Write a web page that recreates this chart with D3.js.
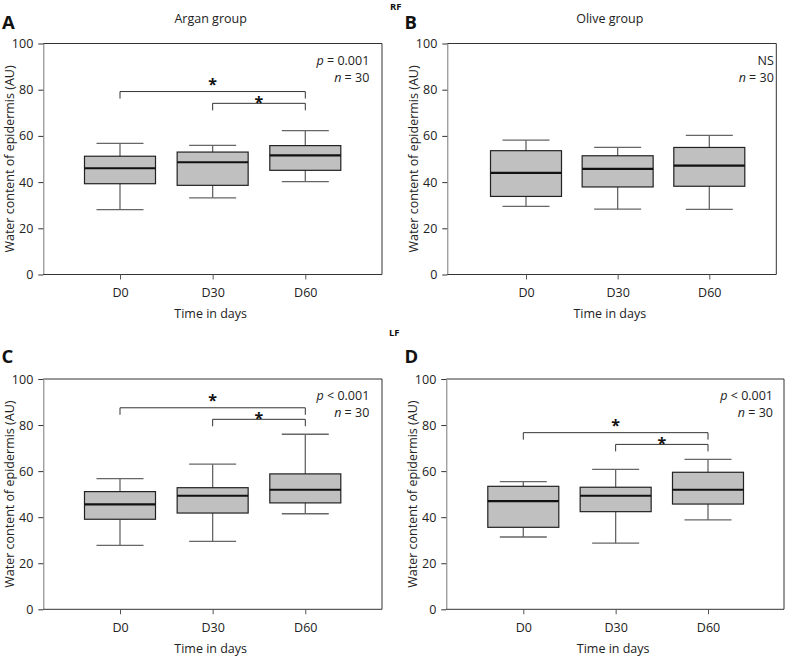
<!DOCTYPE html>
<html>
<head>
<meta charset="utf-8">
<script src="https://cdn.jsdelivr.net/npm/d3@7"></script>
<style>
  body { margin: 0; background: #fff; }
  svg { display: block; font-family: "Open Sans", sans-serif; }
  .axis text { font-size: 12.5px; fill: #222; font-family: "Open Sans", sans-serif; }
</style>
</head>
<body>
<script>
// categories and tick values
const days = ["D0", "D30", "D60"];
const yTicks = [0, 20, 40, 60, 80, 100];

// box summaries per day: [whisker low, Q1, median, Q3, whisker high]
const arganRF = [[28.1, 39.3, 46.0, 51.2, 56.8], [33.2, 38.6, 48.6, 53.0, 55.9], [40.2, 45.1, 51.6, 55.8, 62.3]];
const oliveRF = [[29.5, 33.8, 44.0, 53.6, 58.2], [28.3, 37.9, 45.7, 51.4, 55.0], [28.2, 38.2, 47.1, 55.0, 60.2]];
const arganLF = [[27.8, 39.1, 45.6, 51.1, 56.7], [29.5, 41.8, 49.3, 52.8, 63.0], [41.5, 46.2, 51.9, 58.8, 76.0]];
const oliveLF = [[31.4, 35.6, 47.0, 53.4, 55.4], [28.7, 42.4, 49.3, 53.0, 60.8], [38.8, 45.7, 51.9, 59.5, 65.1]];

// significance brackets: [from, to, height]
const arganRFSig = [["D0", "D60", 79.2], ["D30", "D60", 74.1]];
const oliveRFSig = [];
const arganLFSig = [["D0", "D60", 87.5], ["D30", "D60", 82.5]];
const oliveLFSig = [["D0", "D60", 76.7], ["D30", "D60", 71.6]];

// test result text
const arganRFTest = ["p", " = 0.001"];
const oliveRFTest = ["", "NS"];
const arganLFTest = ["p", " < 0.001"];
const oliveLFTest = ["p", " < 0.001"];
const sampleSize = 30;

const W = 788, H = 658;
const svg = d3.select("body").append("svg")
  .attr("width", W)
  .attr("height", H);

// panel layout
const panels = [
  { letter: "A", title: "Argan group", data: arganRF, sig: arganRFSig, test: arganRFTest,
    left: 43.3, right: 382, top: 43.5, bottom: 274.5, x0: 120, x1: 305.3, letterX: 2, letterY: 28.5 },
  { letter: "B", title: "Olive group", data: oliveRF, sig: oliveRFSig, test: oliveRFTest,
    left: 447.3, right: 776.3, top: 43.5, bottom: 274.5, x0: 526, x1: 709.3, letterX: 404.5, letterY: 28.5 },
  { letter: "C", title: null, data: arganLF, sig: arganLFSig, test: arganLFTest,
    left: 43.3, right: 382, top: 379, bottom: 609.3, x0: 120, x1: 305.3, letterX: 1.5, letterY: 362.5 },
  { letter: "D", title: null, data: oliveLF, sig: oliveLFSig, test: oliveLFTest,
    left: 446.3, right: 784, top: 379, bottom: 609.3, x0: 523.3, x1: 708, letterX: 404.5, letterY: 362.5 }
];

const boxW = 71, capW = 47;

panels.forEach(p => {
  const x = d3.scalePoint().domain(days).range([p.x0, p.x1]);
  const y = d3.scaleLinear().domain([0, 100]).range([p.bottom, p.top]);
  const g = svg.append("g");

  // frame top and right
  g.append("line").attr("x1", p.left).attr("x2", p.right).attr("y1", p.top).attr("y2", p.top)
    .attr("stroke", "#333").attr("stroke-width", 1);
  g.append("line").attr("x1", p.right).attr("x2", p.right).attr("y1", p.top).attr("y2", p.bottom)
    .attr("stroke", "#333").attr("stroke-width", 1);

  // axes
  const yAxis = g.append("g")
    .attr("class", "axis")
    .attr("transform", `translate(${p.left},0)`)
    .call(d3.axisLeft(y).tickValues(yTicks).tickSize(5).tickSizeOuter(0).tickPadding(5));
  yAxis.select(".domain").attr("stroke", "#7a7a7a");
  yAxis.selectAll(".tick line").attr("stroke", "#333");

  const xAxis = g.append("g")
    .attr("class", "axis")
    .attr("transform", `translate(0,${p.bottom})`)
    .call(d3.axisBottom(x).tickSize(5).tickSizeOuter(0).tickPadding(9));
  xAxis.select(".domain").attr("stroke", "#333").attr("d", `M${p.left},0H${p.right}`);
  xAxis.selectAll(".tick line").attr("stroke", "#555");

  // axis labels
  g.append("text")
    .attr("transform", `translate(${p.left - 29},${(p.top + p.bottom) / 2}) rotate(-90)`)
    .attr("text-anchor", "middle")
    .style("font-size", "12.5px").style("fill", "#222")
    .text("Water content of epidermis (AU)");
  g.append("text")
    .attr("x", (p.left + p.right) / 2 - 2)
    .attr("y", p.bottom + 43.5)
    .attr("text-anchor", "middle")
    .style("font-size", "12.5px").style("fill", "#222")
    .text("Time in days");

  // boxes
  const boxes = g.selectAll(".box").data(p.data.map((d, i) => ({ day: days[i], v: d })))
    .join("g").attr("class", "box");
  boxes.append("line") // whisker lower
    .attr("x1", d => x(d.day)).attr("x2", d => x(d.day))
    .attr("y1", d => y(d.v[0])).attr("y2", d => y(d.v[1]))
    .attr("stroke", "#666").attr("stroke-width", 1.3);
  boxes.append("line") // whisker upper
    .attr("x1", d => x(d.day)).attr("x2", d => x(d.day))
    .attr("y1", d => y(d.v[4])).attr("y2", d => y(d.v[3]))
    .attr("stroke", "#666").attr("stroke-width", 1.3);
  boxes.append("line")
    .attr("x1", d => x(d.day) - capW / 2).attr("x2", d => x(d.day) + capW / 2)
    .attr("y1", d => y(d.v[0])).attr("y2", d => y(d.v[0]))
    .attr("stroke", "#666").attr("stroke-width", 1.3);
  boxes.append("line")
    .attr("x1", d => x(d.day) - capW / 2).attr("x2", d => x(d.day) + capW / 2)
    .attr("y1", d => y(d.v[4])).attr("y2", d => y(d.v[4]))
    .attr("stroke", "#666").attr("stroke-width", 1.3);
  boxes.append("rect")
    .attr("x", d => x(d.day) - boxW / 2)
    .attr("width", boxW)
    .attr("y", d => y(d.v[3]))
    .attr("height", d => y(d.v[1]) - y(d.v[3]))
    .attr("fill", "#c0c0c0")
    .attr("stroke", "#222").attr("stroke-width", 1.2);
  boxes.append("line")
    .attr("x1", d => x(d.day) - boxW / 2).attr("x2", d => x(d.day) + boxW / 2)
    .attr("y1", d => y(d.v[2])).attr("y2", d => y(d.v[2]))
    .attr("stroke", "#111").attr("stroke-width", 2.2);

  // significance brackets
  p.sig.forEach((s, i) => {
    const yy = y(s[2]);
    const xa = x(s[0]), xb = x(s[1]);
    g.append("path")
      .attr("d", `M${xa},${yy + 7}V${yy}H${xb}V${yy + 7}`)
      .attr("fill", "none").attr("stroke", "#333").attr("stroke-width", 1);
    g.append("text")
      .attr("x", (xa + xb) / 2)
      .attr("y", yy - (i === 0 ? 10.5 : 4.8) + 9)
      .attr("text-anchor", "middle")
      .style("font-size", "16px").style("font-weight", "bold").style("fill", "#111")
      .text("*");
  });

  // test result
  const tx = p.right - (p.letter === "B" ? 2.5 : p.letter === "D" ? 11 : 12.7);
  const t1 = g.append("text")
    .attr("x", tx)
    .attr("y", p.top + 21.3)
    .attr("text-anchor", "end")
    .style("font-size", "12.5px").style("fill", "#222");
  t1.append("tspan").style("font-style", "italic").text(p.test[0]);
  t1.append("tspan").text(p.test[1]);
  const t2 = g.append("text")
    .attr("x", tx)
    .attr("y", p.top + 38)
    .attr("text-anchor", "end")
    .style("font-size", "12.5px").style("fill", "#222");
  t2.append("tspan").style("font-style", "italic").text("n");
  t2.append("tspan").text(" = " + sampleSize);

  // panel letter and title
  g.append("text")
    .attr("x", p.letterX).attr("y", p.letterY)
    .style("font-size", "18.5px").style("font-weight", "bold").style("fill", "#111")
    .text(p.letter);
  if (p.title) {
    g.append("text")
      .attr("x", (p.left + p.right) / 2 - 2)
      .attr("y", 22.5)
      .attr("text-anchor", "middle")
      .style("font-size", "12.5px").style("fill", "#222")
      .text(p.title);
  }
});

// row labels
svg.append("text")
  .attr("x", 390).attr("y", 10.3)
  .style("font-size", "9.5px").style("font-weight", "bold").style("fill", "#111")
  .text("RF");
svg.append("text")
  .attr("x", 389).attr("y", 336.3)
  .style("font-size", "9.5px").style("font-weight", "bold").style("fill", "#111")
  .text("LF");
</script>
</body>
</html>
